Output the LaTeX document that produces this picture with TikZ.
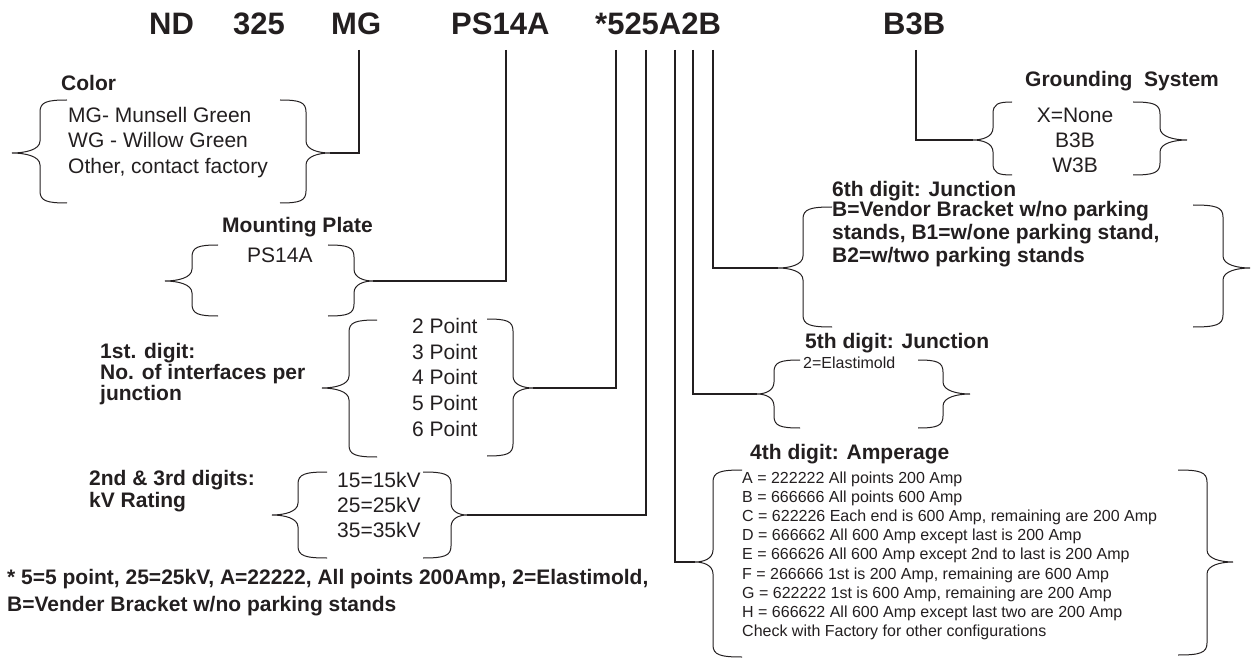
\documentclass[tikz,border=0pt]{standalone}
\usepackage{fontspec}
\setmainfont{Liberation Sans}
\definecolor{ink}{HTML}{231F20}
\tikzset{
 hdr/.style={font=\fontsize{31}{31}\selectfont\bfseries, anchor=base west, inner sep=0pt, text=ink},
 lbl/.style={font=\fontsize{21}{21}\selectfont\bfseries, anchor=base west, inner sep=0pt, text=ink},
 txt/.style={font=\fontsize{21}{21}\selectfont, anchor=base west, inner sep=0pt, text=ink},
 ctxt/.style={txt, anchor=base},
 sml/.style={font=\fontsize{16}{16}\selectfont, anchor=base west, inner sep=0pt, text=ink},
 conn/.style={draw=ink, line width=2.4pt},
 brc/.style={draw=ink, line width=1pt},
}
% #1 name of tip, #2 end x, #3 vertical x, #4 tip x, #5 top y, #6 tip y, #7 bottom y
\newcommand\Brc[7]{%
 \coordinate (#1) at (#4,#6);
 \draw[brc] (#2,#5) .. controls ({#3+0.25*(#2-#3)},#5) and (#3,{#5+2}) .. (#3,{#5+12})
  -- (#3,{#6-12}) .. controls (#3,{#6-3}) and ({#4+0.45*(#3-#4)},#6) .. (#1)
  .. controls ({#4+0.45*(#3-#4)},#6) and (#3,{#6+3}) .. (#3,{#6+12})
  -- (#3,{#7-12}) .. controls (#3,{#7-2}) and ({#3+0.25*(#2-#3)},#7) .. (#2,#7);}
\begin{document}
\begin{tikzpicture}[x=1pt,y=-1pt]
\useasboundingbox (0,0) rectangle (1251,663);
% header
\node[hdr] (nd) at (149,35) {ND};
\node[hdr] (kv) at (233,35) {325};
\node[hdr] (mg) at (331,35) {MG};
\node[hdr] (ps) at (451,35) {PS14A};
\node[hdr] (code) at (595,35) {*525A2B};
\node[hdr] (gs) at (883,35) {B3B};
% header line tops
\coordinate (hMG) at (359,50);
\coordinate (hPS) at (506,50);
\coordinate (h1) at (616,50);
\coordinate (h23) at (646,50);
\coordinate (h4) at (675,50);
\coordinate (h5) at (693,50);
\coordinate (h6) at (713,50);
\coordinate (hG) at (916,50);

% Color
\node[lbl] (colT) at (61,91) {Color};
\node[txt] (col1) at (68,122.5) {MG- Munsell Green};
\node[txt] (col2) at (68,148) {WG - Willow Green};
\node[txt] (col3) at (68,173.5) {Other, contact factory};
\Brc{colL}{67}{40}{12}{100}{153}{203}
\Brc{colR}{280}{306}{330}{100}{153}{203}

% Mounting plate
\node[lbl] (mpT) at (222,233) {Mounting Plate};
\node[txt] (mp1) at (247,262) {PS14A};
\Brc{mpL}{218}{192}{165}{245}{281}{316}
\Brc{mpR}{328}{354}{373}{245}{281}{316}

% 1st digit
\node[lbl] (d1a) at (100,358) {1st. digit:};
\node[lbl] (d1b) at (100,379.5) {No. of interfaces per};
\node[lbl] (d1c) at (100,400) {junction};
\foreach \s [count=\i from 0] in {2,3,4,5,6}
  \node[txt] (pt\i) at (412,{333.5+25.7*\i}) {\s\ Point};
\Brc{d1L}{377}{349}{322}{320}{388}{457}
\Brc{d1R}{487}{513}{533}{319}{388}{456}

% 2nd & 3rd digits
\node[lbl] (d23a) at (89,485) {2nd \& 3rd digits:};
\node[lbl] (d23b) at (89,507.5) {kV Rating};
\node[txt] (kv1) at (337,487) {15=15kV};
\node[txt] (kv2) at (337,512) {25=25kV};
\node[txt] (kv3) at (337,537) {35=35kV};
\Brc{kvL}{327}{298}{272}{472}{515}{558}
\Brc{kvR}{423}{451}{467}{472}{515}{558}

% footnote
\node[lbl] (fn1) at (7,584) {* 5=5 point, 25=25kV, A=22222, All points 200Amp, 2=Elastimold,};
\node[lbl] (fn2) at (7,611.5) {B=Vender Bracket w/no parking stands};

% Grounding system
\node[lbl] (gT) at (1025,87) {Grounding~~System};
\node[ctxt] (g1) at (1075,123) {X=None};
\node[ctxt] (g2) at (1075,148) {B3B};
\node[ctxt] (g3) at (1075,173) {W3B};
\Brc{gL}{1012}{993}{973}{102}{140}{175}
\Brc{gR}{1133}{1160}{1187}{102}{140}{175}

% 6th digit
\node[lbl] (d6T) at (832,197) {6th digit: Junction};
\node[lbl] (d6a) at (832,217) {B=Vendor Bracket w/no parking};
\node[lbl] (d6b) at (832,240) {stands, B1=w/one parking stand,};
\node[lbl] (d6c) at (832,263) {B2=w/two parking stands};
\Brc{d6L}{832}{803}{778}{207}{268}{327}
\Brc{d6R}{1193}{1223}{1250}{205}{268}{327}

% 5th digit
\node[lbl] (d5T) at (805,348) {5th digit: Junction};
\node[sml] (d5a) at (803,368) {2=Elastimold};
\Brc{d5L}{800}{774}{757}{360}{394}{428}
\Brc{d5R}{918}{943}{970}{360}{394}{428}

% 4th digit
\node[lbl] (d4T) at (750,459.5) {4th digit: Amperage};
\foreach \s [count=\i from 0] in {{A = 222222 All points 200 Amp},{B = 666666 All points 600 Amp},{C = 622226 Each end is 600 Amp, remaining are 200 Amp},{D = 666662 All 600 Amp except last is 200 Amp},{E = 666626 All 600 Amp except 2nd to last is 200 Amp},{F = 266666 1st is 200 Amp, remaining are 600 Amp},{G = 622222 1st is 600 Amp, remaining are 200 Amp},{H = 666622 All 600 Amp except last two are 200 Amp},{Check with Factory for other configurations}}
  \node[sml] (amp\i) at (742,{483+19.2*\i}) {\s};
\Brc{d4L}{742}{713}{695}{470}{562}{657}
\Brc{d4R}{1178}{1207}{1233}{470}{562}{655}

% connectors
\draw[conn] (hMG) |- (colR);
\draw[conn] (hPS) |- (mpR);
\draw[conn] (h1) |- (d1R);
\draw[conn] (h23) |- (kvR);
\draw[conn] (h4) |- (d4L);
\draw[conn] (h5) |- (d5L);
\draw[conn] (h6) |- (d6L);
\draw[conn] (hG) |- (gL);
\end{tikzpicture}
\end{document}
